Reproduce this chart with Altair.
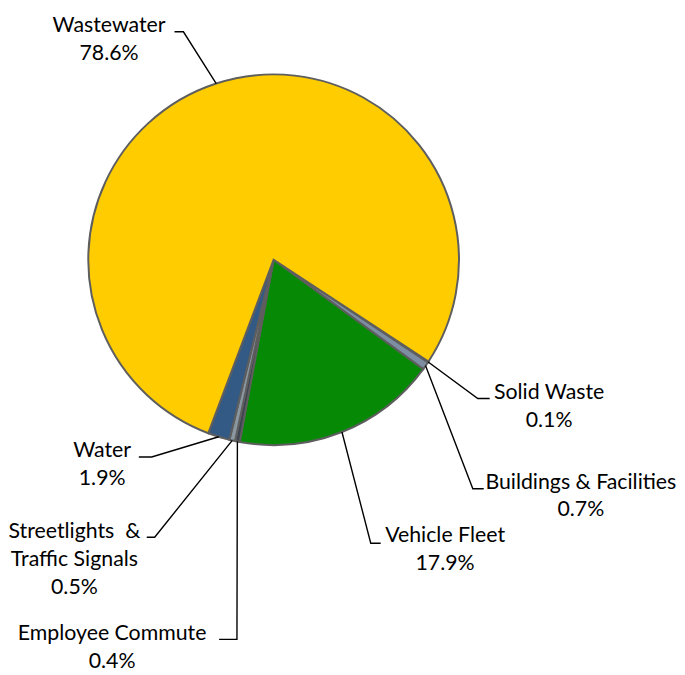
import math
import altair as alt
import pandas as pd

# ---- data ----
categories = ["Solid Waste", "Buildings & Facilities", "Vehicle Fleet",
              "Employee Commute", "Streetlights \u00a0&\nTraffic Signals", "Water", "Wastewater"]
shares = [0.1, 0.7, 17.9, 0.4, 0.5, 1.9, 78.6]
colors = ["#4f6b8c", "#7d8ea3", "#068a06", "#3d4552", "#8a96a0", "#335a85", "#ffcc00"]

# ---- layout (pixel offsets from the pie centre, y downward) ----
R = 187
START_DEG = 123.3
label_xy = [(278, 141), (310, 231), (173, 285), (-163, 384), (-201, 281), (-173, 199), (-166, -230)]
elbow_xy = [(206, 140), (201, 231), (98, 286), (-37, 383), (-120, 280), (-123, 199), (-91, -230)]
tick_xy = [(218, 140), (212, 231), (108, 286), (-55, 383), (-128, 280), (-136, 199), (-100, -230)]

total = sum(shares)
pie_rows, line_rows, text_rows = [], [], []
cum = 0.0
for i, (c, v) in enumerate(zip(categories, shares)):
    pie_rows.append({"idx": i, "category": c, "share": v})
    mid = math.radians(START_DEG + (cum + v / 2) / total * 360)
    cum += v
    ex, ey = R * math.sin(mid), -R * math.cos(mid)
    for k, (px, py) in enumerate([(ex, ey), elbow_xy[i], tick_xy[i]]):
        line_rows.append({"category": c, "ord": k, "x": px, "y": py})
    text_rows.append({"category": c, "x": label_xy[i][0], "y": label_xy[i][1],
                      "label": f"{c}\n{v:.1f}%"})

pie_df = pd.DataFrame(pie_rows)
line_df = pd.DataFrame(line_rows)
text_df = pd.DataFrame(text_rows)

W, H = 669, 659
CX, CY = 267, 251
xs = alt.Scale(domain=[-CX, W - CX], nice=False, zero=False)
ys = alt.Scale(domain=[-CY, H - CY], nice=False, zero=False, reverse=True)

start = math.radians(START_DEG)
pie = alt.Chart(pie_df).mark_arc(outerRadius=R, stroke="#5e5e5e", strokeWidth=2).encode(
    x=alt.X(datum=0, type="quantitative", scale=xs, axis=None),
    y=alt.Y(datum=0, type="quantitative", scale=ys, axis=None),
    theta=alt.Theta("share:Q", stack=True, scale=alt.Scale(range=[start, start + 2 * math.pi])),
    color=alt.Color("category:N", scale=alt.Scale(domain=categories, range=colors), legend=None),
    order=alt.Order("idx:Q"),
)

lines = alt.Chart(line_df).mark_line(color="black", strokeWidth=1.4).encode(
    x=alt.X("x:Q", scale=xs, axis=None),
    y=alt.Y("y:Q", scale=ys, axis=None),
    detail="category:N",
    order="ord:Q",
)

texts = alt.Chart(text_df).mark_text(align="center", baseline="alphabetic", lineBreak="\n",
                                     lineHeight=28, font="Lato", fontSize=21.5, color="black").encode(
    x=alt.X("x:Q", scale=xs, axis=None),
    y=alt.Y("y:Q", scale=ys, axis=None),
    text="label:N",
)

chart = alt.layer(pie, lines, texts).properties(width=W, height=H, padding=0).configure_view(stroke=None)
chart.save("out.html", embed_options={"renderer": "svg", "actions": False})
